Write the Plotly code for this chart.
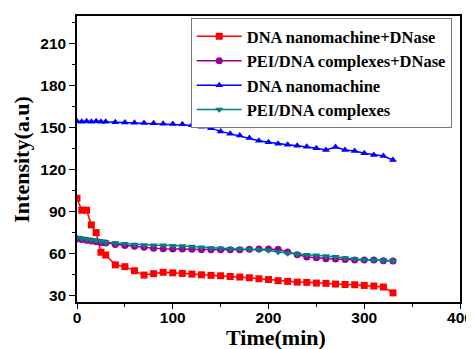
import plotly.graph_objects as go

t = [0, 5, 10, 15, 20, 25, 30, 40, 50, 60, 70, 80, 90, 100, 110, 120, 130, 140, 150,
     160, 170, 180, 190, 200, 210, 220, 230, 240, 250, 260, 270, 280, 290, 300, 310, 320, 330]

dna_dnase = [99.5, 91, 91, 80.5, 75, 61, 59, 52, 50.7, 47.8, 44.7, 45.7, 46.7, 46.3, 45.9,
             45.4, 44.9, 44.5, 44.2, 43.7, 43.3, 42.8, 42.1, 41.5, 40.7, 40.2, 39.7, 39.5,
             39.0, 38.8, 38.3, 38.0, 37.8, 37.3, 36.9, 36.2, 32.0]

pei_dnase = [70.5, 70, 69.5, 69, 68.5, 68, 67.5, 66.5, 65.8, 65.3, 64.5, 63.9, 63.5, 63.3,
             63.3, 63.1, 62.8, 62.8, 62.8, 62.8, 62.8, 63.1, 63.3, 63.3, 63.1, 61.2, 59.2,
             57.6, 57.1, 56.4, 56.2, 55.9, 55.5, 55.5, 55.5, 55.0, 54.7]

dna = [154.5, 154, 154.5, 154, 154.5, 154, 154, 153.8, 153.5, 153.4, 153.2, 153, 152.7,
       152.5, 152.2, 151.5, 150.5, 149.5, 147.2, 145.5, 144.3, 142.5, 140.5, 139.4, 138.4,
       137.7, 137, 136.3, 135.2, 134, 136, 134, 133.2, 131.6, 130.4, 129.6, 126.8]

pei = [71.5, 70.8, 70.3, 69.8, 69.3, 68.8, 68.2, 67.5, 67, 66.5, 66.2, 66, 65.9, 65.7, 65.4,
       65, 64.5, 64, 63.8, 63.5, 63.3, 63.1, 62.8, 62.4, 61.2, 60.2, 59.7, 59.2, 58.8, 58.3,
       57.8, 56.9, 56.2, 55.7, 55.5, 55.2, 55.0]

x_ticks = [0, 100, 200, 300, 400]
y_ticks = [30, 60, 90, 120, 150, 180, 210]

names = ["DNA nanomachine+DNase", "PEI/DNA complexes+DNase", "DNA nanomachine", "PEI/DNA complexes"]
colors = ["#FF0000", "#990099", "#0000FF", "#008080"]
symbols = ["square", "circle", "triangle-up", "triangle-down"]
series = [dna_dnase, pei_dnase, dna, pei]

fig = go.Figure()
for name, col, sym, ys in zip(names, colors, symbols, series):
    fig.add_trace(go.Scatter(
        x=t, y=ys, name=name, mode="lines+markers",
        line=dict(color=col, width=1.5),
        marker=dict(symbol=sym, size=7, color=col),
    ))

axis_common = dict(
    showline=True, linecolor="black", linewidth=1.5, mirror=True,
    ticks="outside", tickwidth=1.3, tickcolor="black",
    showgrid=False, zeroline=False, automargin=False,
    tickfont=dict(family="Liberation Sans, Arial", size=15.5, color="black", weight="bold"),
)

title_font = dict(family="Liberation Serif, Times New Roman", size=22, color="black", weight="bold")

fig.update_xaxes(
    range=[0, 400], tickvals=x_ticks, ticklen=5, ticklabelstandoff=-4,
    minor=dict(ticks="outside", ticklen=3, tickwidth=1.2, tickcolor="black", dtick=50, tick0=0),
    **axis_common,
)
fig.update_yaxes(
    range=[25.5, 229.5], tickvals=y_ticks, ticklen=6,
    minor=dict(ticks="outside", ticklen=3, tickwidth=1.2, tickcolor="black", dtick=15, tick0=0),
    **axis_common,
)

# Axis titles as annotations for precise placement
fig.add_annotation(text="Time(min)", xref="paper", yref="paper", x=0.52, y=-0.124,
                   xanchor="center", yanchor="middle", showarrow=False, font=title_font)
fig.add_annotation(text="Intensity(a.u)", xref="paper", yref="paper", x=-0.147, y=0.50,
                   xanchor="center", yanchor="middle", showarrow=False, font=title_font,
                   textangle=-90)

# page body has an 8px margin, so the figure is sized to fit the window
fig.update_layout(
    width=466, height=341,
    margin=dict(l=69, r=14, t=8, b=47),
    plot_bgcolor="white", paper_bgcolor="white",
    showlegend=True,
    legend=dict(
        x=0.297, y=0.993, xanchor="left", yanchor="top",
        bgcolor="white", bordercolor="#777777", borderwidth=1,
        font=dict(family="Liberation Serif, Times New Roman", size=16.5, color="black", weight="bold"),
        tracegroupgap=0, itemwidth=45,
    ),
)

fig.write_html("out.html")
